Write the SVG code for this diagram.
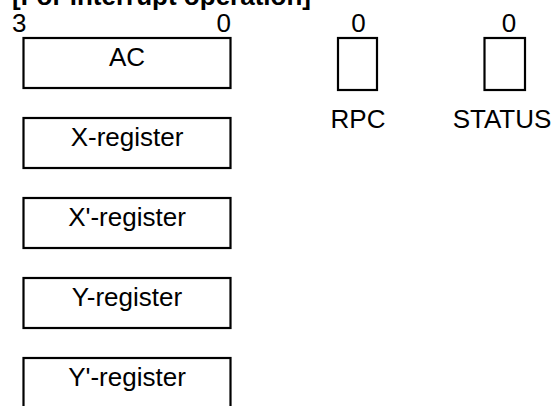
<svg xmlns="http://www.w3.org/2000/svg" width="552" height="406" viewBox="0 0 552 406">
<style>
text{font-family:"Liberation Sans",Arial,sans-serif;font-size:26px;fill:#000}
.t{font-weight:bold}
.m{text-anchor:middle}
rect{fill:#fff;stroke:#000;stroke-width:2.2}
</style>
<rect x="0" y="0" width="552" height="406" style="stroke:none;fill:#fff"/>
<text class="t" x="12" y="5">[For interrupt operation]</text>
<text x="12" y="32">3</text>
<text x="231" y="32" style="text-anchor:end">0</text>
<g id="AC"><rect x="23.5" y="38" width="207" height="50"/><text class="m" x="127" y="66">AC</text></g>
<g id="X"><rect x="23.5" y="118" width="207" height="50"/><text class="m" x="127" y="146">X-register</text></g>
<g id="Xp"><rect x="23.5" y="198" width="207" height="50"/><text class="m" x="127" y="226">X'-register</text></g>
<g id="Y"><rect x="23.5" y="278" width="207" height="50"/><text class="m" x="127" y="306">Y-register</text></g>
<g id="Yp"><rect x="23.5" y="358" width="207" height="50"/><text class="m" x="127" y="386">Y'-register</text></g>
<g id="RPC"><text class="m" x="358.5" y="32">0</text><rect x="338" y="38" width="39" height="52"/><text class="m" x="358" y="128">RPC</text></g>
<g id="STATUS"><text class="m" x="509" y="32">0</text><rect x="484.5" y="38" width="40.5" height="52"/><text class="m" x="502" y="128">STATUS</text></g>
<g id="connectors"/>
</svg>
